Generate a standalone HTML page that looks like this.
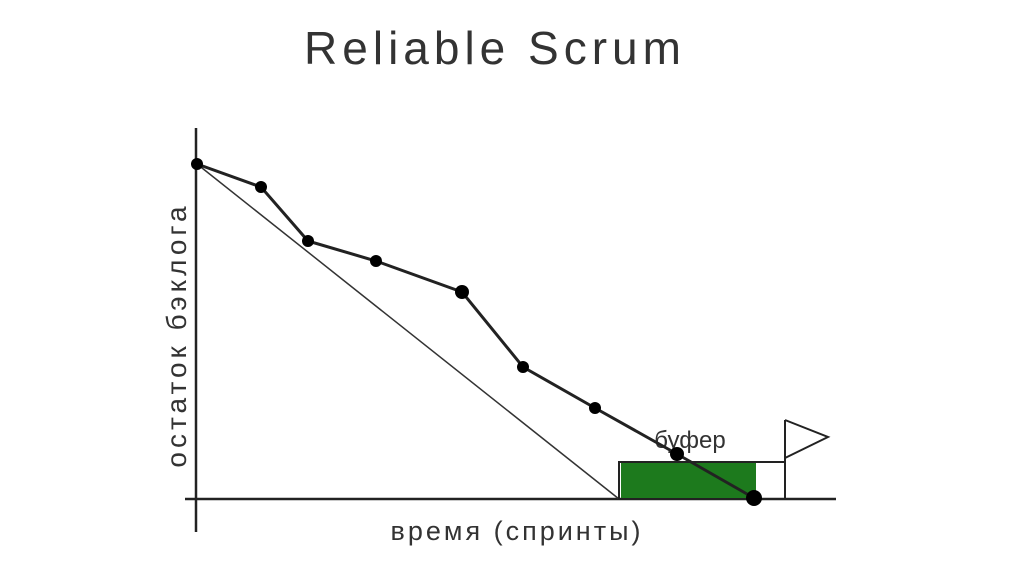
<!DOCTYPE html>
<html><head><meta charset="utf-8"><style>
body{margin:0;background:#fff;width:1024px;height:574px;overflow:hidden}
svg{display:block}
text{font-family:"Liberation Sans","DejaVu Sans",sans-serif;fill:#333}
</style></head><body>
<svg width="1024" height="574" viewBox="0 0 1024 574">
<text x="495" y="64" font-size="46" text-anchor="middle" letter-spacing="5">Reliable Scrum</text>
<line x1="196" y1="128" x2="196" y2="532" stroke="#222" stroke-width="2.5"/>
<line x1="185" y1="499" x2="836" y2="499" stroke="#222" stroke-width="2.5"/>
<text transform="translate(186,335) rotate(-90)" font-size="28" text-anchor="middle" letter-spacing="4">остаток бэклога</text>
<text x="517" y="540" font-size="27" text-anchor="middle" letter-spacing="3">время (спринты)</text>
<line x1="197" y1="164" x2="619" y2="499" stroke="#333" stroke-width="1.5"/>
<rect x="621" y="463" width="135" height="36" fill="#1d7a1d"/>
<rect x="619" y="462" width="166" height="37" fill="none" stroke="#222" stroke-width="2"/>
<line x1="785" y1="420" x2="785" y2="499" stroke="#222" stroke-width="2"/>
<polyline points="785,420 828,437 785,458" fill="none" stroke="#222" stroke-width="2"/>
<text x="690" y="448" font-size="24" text-anchor="middle">буфер</text>
<polyline points="197,164 261,187 308,241 376,261 462,292 523,367 595,408 677,454 754,498" fill="none" stroke="#222" stroke-width="3"/>
<g fill="#000">
<circle cx="197" cy="164" r="6"/><circle cx="261" cy="187" r="6"/><circle cx="308" cy="241" r="6"/>
<circle cx="376" cy="261" r="6"/><circle cx="462" cy="292" r="7"/><circle cx="523" cy="367" r="6"/>
<circle cx="595" cy="408" r="6"/><circle cx="677" cy="454" r="7"/><circle cx="754" cy="498" r="8"/>
</g>
</svg>
</body></html>
